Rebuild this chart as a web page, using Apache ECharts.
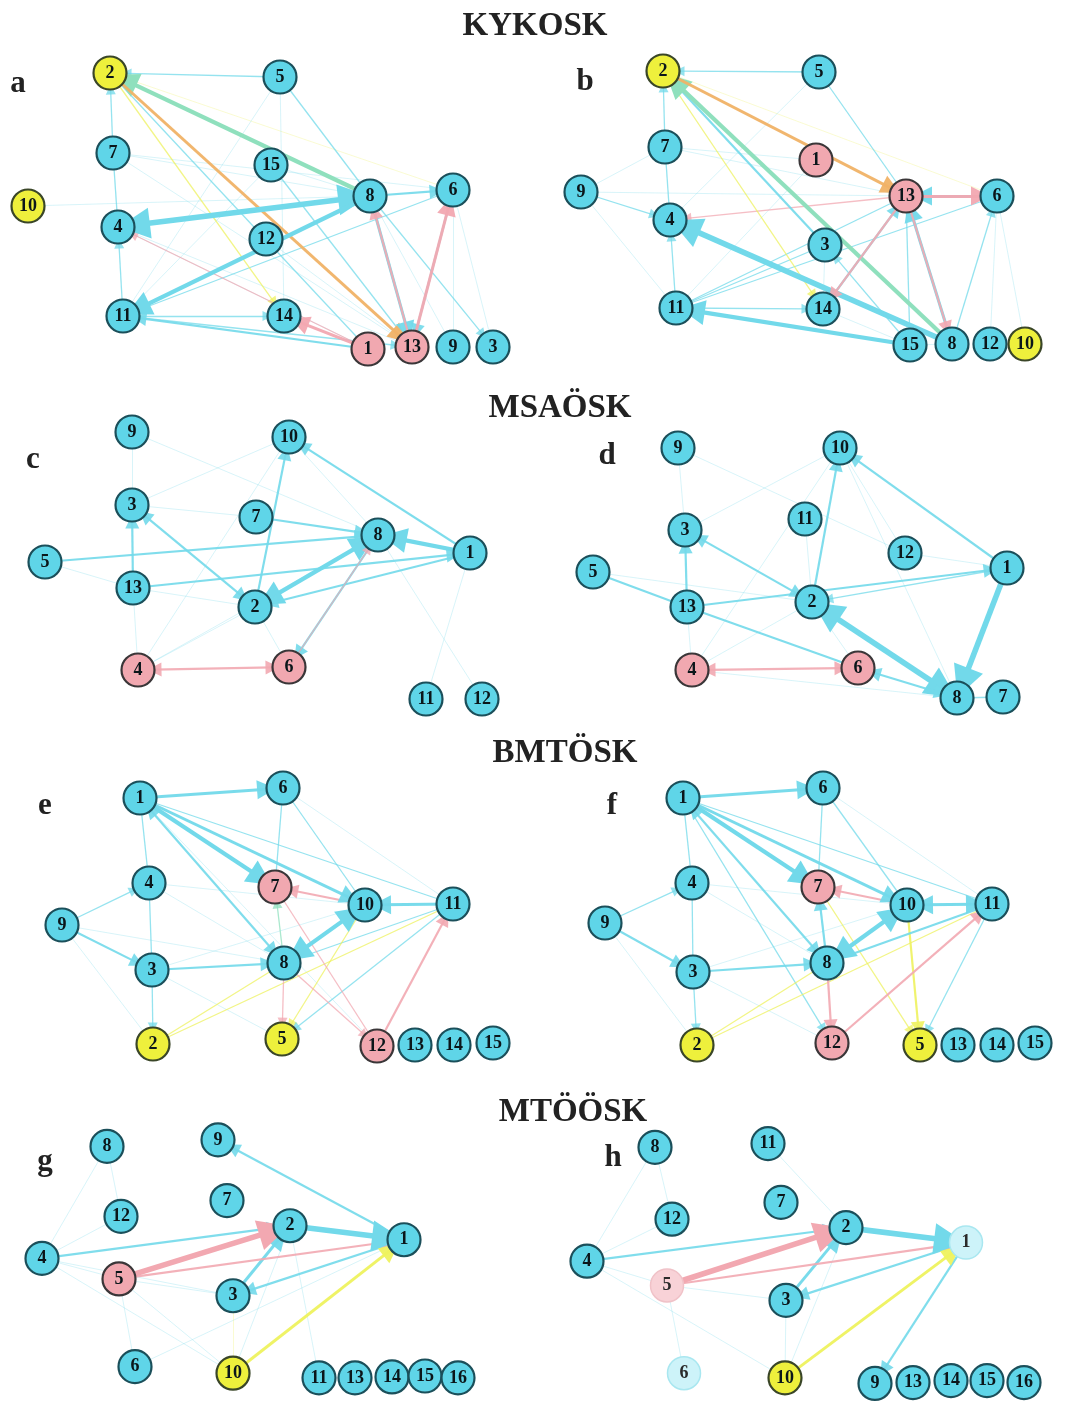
<!DOCTYPE html>
<html>
<head>
<meta charset="utf-8">
<script src="https://cdn.jsdelivr.net/npm/echarts@6/dist/echarts.min.js"></script>
<style>
  html, body { margin: 0; padding: 0; background: #fff; }
  #chart { width: 1067px; height: 1418px; }
</style>
</head>
<body>
<div id="chart"></div>
<script>
// Node rows: [label, x, y, role]; role c = cyan, p = pink, y = yellow, lc/lp = faded
// Edge rows: [from, to, weight 0..5, hue, arrows]; arrows 0 none, 1 at target, 2 both ends

const nodesA = [
  ['2',110,33,'y'],['5',280,37,'c'],['7',113,113,'c'],['15',271,125,'c'],['10',28,166,'y'],
  ['4',118,187,'c'],['8',370,156,'c'],['6',453,150,'c'],['12',266,199,'c'],['11',123,276,'c'],
  ['14',284,276,'c'],['1',368,309,'p'],['13',412,307,'p'],['9',453,307,'c'],['3',493,307,'c']
];
const edgesA = [
  ['7','6',0,'c',0],['7','8',0,'c',0],['10','8',0,'c',0],['2','6',0,'y',0],['6','3',0,'c',0],
  ['15','8',0,'c',0],['5','11',0,'c',0],['15','11',0,'c',0],['12','13',0,'c',0],['4','13',0,'c',0],
  ['7','13',0,'c',0],['5','14',0,'c',0],['6','9',0,'c',0],['8','9',0,'c',0],['4','1',0,'c',0],
  ['5','2',1,'c',1],['7','2',1,'c',1],['4','7',1,'c',0],['11','4',1,'c',1],['6','11',1,'c',0],
  ['11','14',1,'c',1],['1','11',2,'c',1],['11','13',1,'c',1],['8','3',1,'c',1],['5','8',1,'c',0],
  ['15','13',1,'c',0],['2','1',1,'c',0],['2','14',1,'y',1],['1','4',1,'p',1],
  ['8','2',4,'g',1],['2','13',3,'o',1],['4','8',5,'c',2],['8','11',4,'c',1],['8','6',2,'c',1],
  ['8','13',3,'c',1],['13','8',2,'p',1],['6','13',2,'c',1],['13','6',3,'p',1],['1','14',3,'p',1]
];

const nodesB = [
  ['2',133,31,'y'],['5',289,32,'c'],['7',135,107,'c'],['1',286,120,'p'],['9',51,152,'c'],
  ['13',376,156,'p'],['6',467,156,'c'],['4',140,180,'c'],['3',295,205,'c'],['11',146,268,'c'],
  ['14',293,269,'c'],['15',380,305,'c'],['8',422,304,'c'],['12',460,304,'c'],['10',495,304,'y']
];
const edgesB = [
  ['7','13',0,'c',0],['1','7',0,'c',0],['6','2',0,'y',0],['9','11',0,'c',0],['9','13',0,'c',0],
  ['12','6',0,'c',0],['10','6',0,'c',0],['3','14',0,'c',0],['1','11',0,'c',0],['5','4',0,'c',0],
  ['9','7',0,'c',0],['15','14',0,'c',0],['8','15',0,'c',0],
  ['5','2',1,'c',1],['7','2',1,'c',1],['4','7',1,'c',0],['11','4',1,'c',1],['9','4',1,'c',1],
  ['11','14',1,'c',1],['13','4',1,'p',1],['8','6',1,'c',1],['11','3',1,'c',0],['11','13',1,'c',0],
  ['11','6',1,'c',0],['15','3',1,'c',1],['5','13',1,'c',0],['13','15',1,'c',0],['2','14',1,'y',1],
  ['3','2',2,'c',1],['8','2',4,'g',1],['2','13',3,'o',1],['8','4',5,'c',1],['15','11',4,'c',1],
  ['6','13',3,'c',1],['13','6',3,'p',1],['14','13',2,'c',1],['13','14',2,'p',1],
  ['8','13',3,'c',1],['13','8',2,'p',1]
];

const nodesC = [
  ['9',132,32,'c'],['10',289,37,'c'],['3',132,105,'c'],['7',256,117,'c'],['8',378,135,'c'],
  ['1',470,153,'c'],['5',45,162,'c'],['13',133,188,'c'],['2',255,207,'c'],['4',138,270,'p'],
  ['6',289,267,'p'],['11',426,299,'c'],['12',482,299,'c']
];
const edgesC = [
  ['9','3',0,'c',0],['9','8',0,'c',0],['3','7',0,'c',0],['3','10',0,'c',0],['4','13',0,'c',0],
  ['4','2',0,'c',0],['4','8',0,'c',0],['6','2',0,'c',0],['12','8',0,'c',0],['11','1',0,'c',0],
  ['10','8',0,'c',0],['10','1',0,'c',0],['5','13',0,'c',0],['13','2',0,'c',0],['4','10',0,'c',0],
  ['1','10',2,'c',1],['1','8',4,'c',1],['8','2',4,'c',2],['1','2',2,'c',1],['13','1',2,'c',1],
  ['5','8',2,'c',1],['7','8',2,'c',1],['13','3',2,'c',1],['3','2',2,'c',2],['2','10',2,'c',1],
  ['8','6',2,'c',1],['6','8',1,'p',1],['4','6',2,'p',2]
];

const nodesD = [
  ['9',148,48,'c'],['10',310,48,'c'],['11',275,119,'c'],['3',155,130,'c'],['12',375,153,'c'],
  ['5',63,172,'c'],['1',477,168,'c'],['13',157,207,'c'],['2',282,202,'c'],['4',162,270,'p'],
  ['6',328,268,'p'],['8',427,298,'c'],['7',473,297,'c']
];
const edgesD = [
  ['9','3',0,'c',0],['9','12',0,'c',0],['3','10',0,'c',0],['10','12',0,'c',0],['10','8',0,'c',0],
  ['4','8',0,'c',0],['4','2',0,'c',0],['4','13',0,'c',0],['12','1',0,'c',0],['11','2',0,'c',0],
  ['6','2',0,'c',0],['4','10',0,'c',0],['5','2',0,'c',0],
  ['1','10',2,'c',1],['1','8',5,'c',1],['8','2',5,'c',2],['13','1',2,'c',1],['1','2',1,'c',1],
  ['2','10',2,'c',1],['13','3',2,'c',1],['3','2',2,'c',2],['5','13',2,'c',0],['13','6',2,'c',0],
  ['6','8',2,'c',2],['4','6',2,'p',2],['7','8',1,'c',0]
];

const nodesE = [
  ['1',140,38,'c'],['6',283,28,'c'],['4',149,123,'c'],['7',275,127,'p'],['10',365,145,'c'],
  ['11',453,144,'c'],['9',62,165,'c'],['3',152,210,'c'],['8',284,203,'c'],['2',153,284,'y'],
  ['5',282,279,'y'],['12',377,286,'p'],['13',415,285,'c'],['14',454,285,'c'],['15',493,283,'c']
];
const edgesE = [
  ['1','12',0,'c',0],['9','2',0,'c',0],['4','10',0,'c',0],['4','8',0,'c',0],['3','10',0,'c',0],
  ['6','11',0,'c',0],['3','5',0,'c',0],['9','8',0,'c',0],
  ['1','11',1,'c',0],['1','4',1,'c',0],['4','3',1,'c',0],['9','4',1,'c',1],['9','3',2,'c',1],
  ['3','8',2,'c',1],['3','2',1,'c',1],['7','6',1,'c',0],['6','10',1,'c',0],['11','8',1,'c',0],
  ['2','8',1,'y',0],['2','11',1,'y',0],['10','5',1,'y',1],['11','5',1,'c',1],['8','5',1,'p',1],
  ['7','12',1,'p',0],['8','12',1,'p',1],['8','7',1,'g',1],['10','7',2,'p',1],
  ['1','6',3,'c',1],['1','7',4,'c',1],['1','10',3,'c',1],['8','1',2,'c',2],['11','10',3,'c',1],
  ['10','8',4,'c',2],['12','11',2,'p',1]
];

const nodesF = [
  ['1',153,38,'c'],['6',293,28,'c'],['4',162,123,'c'],['7',288,127,'p'],['10',377,145,'c'],
  ['11',462,144,'c'],['9',75,163,'c'],['3',163,212,'c'],['8',297,203,'c'],['2',167,285,'y'],
  ['12',302,283,'p'],['5',390,285,'y'],['13',428,285,'c'],['14',467,285,'c'],['15',505,283,'c']
];
const edgesF = [
  ['9','2',0,'c',0],['4','10',0,'c',0],['3','10',0,'c',0],['6','11',0,'c',0],['3','12',0,'c',0],
  ['4','8',0,'c',0],
  ['1','11',1,'c',0],['1','12',1,'c',1],['1','4',1,'c',0],['4','3',1,'c',0],['9','4',1,'c',1],
  ['9','3',2,'c',1],['3','8',2,'c',1],['3','2',1,'c',1],['7','6',1,'c',0],['6','10',1,'c',0],
  ['2','8',1,'y',0],['2','11',1,'y',0],['7','5',1,'y',1],['10','5',2,'y',1],['11','5',1,'c',1],
  ['11','8',2,'c',0],['8','7',2,'c',1],['10','7',2,'p',1],['8','12',2,'p',1],
  ['1','6',3,'c',1],['1','7',4,'c',1],['1','10',3,'c',1],['8','1',2,'c',2],['11','10',3,'c',2],
  ['10','8',4,'c',2],['12','11',2,'p',1]
];

const nodesG = [
  ['8',107,39,'c'],['9',218,32,'c'],['7',227,97,'c'],['12',121,114,'c'],['2',290,124,'c'],
  ['1',404,139,'c'],['4',42,159,'c'],['5',119,181,'p'],['3',233,199,'c'],['6',135,275,'c'],
  ['10',233,282,'y'],['11',319,287,'c'],['13',355,287,'c'],['14',392,286,'c'],['15',425,285,'c'],
  ['16',458,287,'c']
];
const edgesG = [
  ['4','8',0,'c',0],['4','12',0,'c',0],['4','5',0,'c',0],['4','10',0,'c',0],['5','3',0,'c',0],
  ['5','6',0,'c',0],['5','10',0,'c',0],['6','1',0,'c',0],['10','3',0,'y',0],['10','2',0,'c',0],
  ['8','12',0,'c',0],['11','2',0,'c',0],['4','3',0,'c',0],
  ['1','9',2,'c',1],['4','2',2,'c',1],['1','3',2,'c',1],['3','2',3,'c',1],['5','1',2,'p',1],
  ['10','1',3,'y',1],['2','1',5,'c',1],['5','2',5,'p',1]
];

const nodesH = [
  ['8',125,40,'c'],['11',238,36,'c'],['7',251,99,'c'],['12',142,117,'c'],['2',316,126,'c'],
  ['1',436,142,'lc'],['4',57,162,'c'],['5',137,188,'lp'],['3',256,204,'c'],['6',154,282,'lc'],
  ['10',255,287,'y'],['9',345,293,'c'],['13',383,292,'c'],['14',421,290,'c'],['15',457,290,'c'],
  ['16',494,292,'c']
];
const edgesH = [
  ['4','8',0,'c',0],['4','12',0,'c',0],['4','5',0,'c',0],['4','10',0,'c',0],['5','3',0,'c',0],
  ['8','12',0,'c',0],['11','2',0,'c',0],['10','3',0,'c',0],['6','5',0,'c',0],['10','2',0,'c',0],
  ['1','9',2,'c',1],['4','2',2,'c',1],['1','3',2,'c',1],['3','2',3,'c',1],['5','1',2,'p',1],
  ['10','1',3,'y',1],['2','1',5,'c',1],['5','2',5,'p',1]
];

const panelLetters = ['a','b','c','d','e','f','g','h'];
const sectionTitles = ['KYKOSK','MSAÖSK','BMTÖSK','MTÖÖSK'];

// ---- styling and layout ----
const panels = [
  { nodes: nodesA, edges: edgesA, left: 0,   top: 40 },
  { nodes: nodesB, edges: edgesB, left: 530, top: 40 },
  { nodes: nodesC, edges: edgesC, left: 0,   top: 400 },
  { nodes: nodesD, edges: edgesD, left: 530, top: 400 },
  { nodes: nodesE, edges: edgesE, left: 0,   top: 760 },
  { nodes: nodesF, edges: edgesF, left: 530, top: 760 },
  { nodes: nodesG, edges: edgesG, left: 0,   top: 1110 },
  { nodes: nodesH, edges: edgesH, left: 530, top: 1110 }
];
const FRAME_W = 537, FRAME_H = 330;

const SERIF = '"Liberation Serif", "DejaVu Serif", serif';
const nodeStyle = {
  c:  { color: '#5fd5e8', borderColor: '#1b4f5a', borderWidth: 2.2, text: '#0b161a' },
  p:  { color: '#f1a8b0', borderColor: '#3a3638', borderWidth: 2.2, text: '#0b161a' },
  y:  { color: '#eef03c', borderColor: '#3a4628', borderWidth: 2.2, text: '#0b161a' },
  lc: { color: '#cdf3f9', borderColor: '#a9e7f0', borderWidth: 1.5, text: '#2a2a2a' },
  lp: { color: '#f8d2d7', borderColor: '#f0c2c8', borderWidth: 1.5, text: '#2a2a2a' }
};
const hueColor = { c: '#72d9ea', p: '#f2a8b1', y: '#eef25e', g: '#8fe0bd', o: '#f0b266' };
const widthByWeight   = [1, 1.3, 2.2, 3, 4.2, 5.6];
const opacityByWeight = [0.28, 0.75, 0.9, 0.95, 1, 1];
const arrowByWeight   = [0, 10, 14, 19, 25, 31];

const grids = [], xAxes = [], yAxes = [], series = [];
panels.forEach((pnl, i) => {
  grids.push({ left: pnl.left, top: pnl.top, width: FRAME_W, height: FRAME_H, show: false });
  xAxes.push({ type: 'value', gridIndex: i, min: 0, max: FRAME_W, show: false });
  yAxes.push({ type: 'value', gridIndex: i, min: 0, max: FRAME_H, inverse: true, show: false });
  series.push({
    type: 'graph',
    coordinateSystem: 'cartesian2d',
    xAxisIndex: i,
    yAxisIndex: i,
    symbol: 'circle',
    symbolSize: 33,
    silent: true,
    animation: false,
    emphasis: { disabled: true },
    data: pnl.nodes.map(n => {
      const s = nodeStyle[n[3]];
      return {
        name: n[0],
        value: [n[1], n[2]],
        itemStyle: { color: s.color, borderColor: s.borderColor, borderWidth: s.borderWidth },
        label: {
          show: true, position: 'inside', formatter: n[0],
          fontFamily: SERIF, fontWeight: 'bold', fontSize: 18, color: s.text
        }
      };
    }),
    links: pnl.edges.map(e => {
      const w = e[2];
      const arrow = e[4];
      const sz = Math.max(arrowByWeight[w], 9);
      return {
        source: e[0],
        target: e[1],
        symbol: arrow === 2 ? ['triangle', 'triangle'] : arrow === 1 ? ['none', 'triangle'] : ['none', 'none'],
        symbolSize: arrow === 2 ? [sz, sz] : [0, sz],
        lineStyle: {
          color: hueColor[e[3]],
          width: widthByWeight[w],
          opacity: opacityByWeight[w],
          curveness: 0
        }
      };
    })
  });
});

const graphic = [];
const titlePos = [[535, 26], [560, 408], [565, 753], [573, 1112]];
sectionTitles.forEach((t, i) => {
  graphic.push({
    type: 'text', x: titlePos[i][0], y: titlePos[i][1],
    style: { text: t, font: 'bold 33px ' + SERIF, fill: '#222', textAlign: 'center', textVerticalAlign: 'middle' }
  });
});
const letterPos = [[18, 84], [585, 82], [33, 460], [607, 456], [45, 806], [612, 806], [45, 1162], [613, 1158]];
panelLetters.forEach((t, i) => {
  graphic.push({
    type: 'text', x: letterPos[i][0], y: letterPos[i][1],
    style: { text: t, font: 'bold 31px ' + SERIF, fill: '#222', textAlign: 'center', textVerticalAlign: 'middle' }
  });
});

const chart = echarts.init(document.getElementById('chart'), null, { renderer: 'canvas' });
chart.setOption({
  backgroundColor: '#ffffff',
  animation: false,
  grid: grids,
  xAxis: xAxes,
  yAxis: yAxes,
  series: series,
  graphic: graphic
});
</script>
</body>
</html>
